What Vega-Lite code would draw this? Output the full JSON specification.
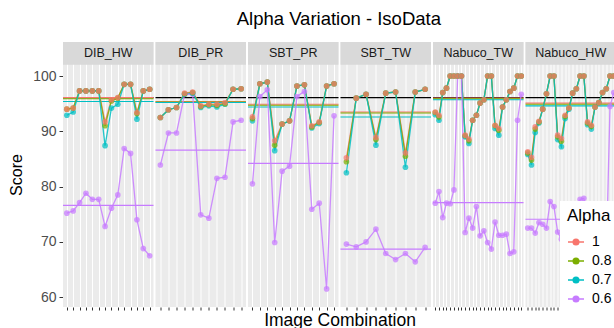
{
  "$schema": "https://vega.github.io/schema/vega-lite/v6.json",
  "padding": {"left": 8, "top": 9, "right": 0, "bottom": 0},
  "bounds": "flush",
  "title": {"text": "Alpha Variation - IsoData", "fontSize": 18.5, "fontWeight": "normal", "color": "#000000", "anchor": "middle", "offset": 14, "dx": 25},
  "data": {"values": [
    {"p":"DIB_HW","k":"m","ref":96.1,"a1":96.1,"a08":95.9,"a07":95.4,"a06":76.6},
    {"p":"DIB_PR","k":"m","ref":96.1,"a1":95.4,"a08":95.3,"a07":95.2,"a06":86.6},
    {"p":"SBT_PR","k":"m","ref":96.1,"a1":94.9,"a08":94.7,"a07":94.4,"a06":84.2},
    {"p":"SBT_TW","k":"m","ref":96.1,"a1":93.5,"a08":93.3,"a07":92.6,"a06":68.7},
    {"p":"Nabuco_TW","k":"m","ref":96.1,"a1":96.0,"a08":95.9,"a07":95.7,"a06":77.1},
    {"p":"Nabuco_HW","k":"m","ref":96.1,"a1":95.1,"a08":94.9,"a07":94.6,"a06":74.1},
    {"p":"DIB_HW","k":"pt","i":1,"a1":94.0,"a08":94.0,"a07":92.9,"a06":75.2},
    {"p":"DIB_HW","k":"pt","i":2,"a1":94.2,"a08":94.2,"a07":93.5,"a06":75.6},
    {"p":"DIB_HW","k":"pt","i":3,"a1":97.3,"a08":97.3,"a07":97.3,"a06":77.1},
    {"p":"DIB_HW","k":"pt","i":4,"a1":97.3,"a08":97.3,"a07":97.3,"a06":78.8},
    {"p":"DIB_HW","k":"pt","i":5,"a1":97.3,"a08":97.3,"a07":97.3,"a06":77.7},
    {"p":"DIB_HW","k":"pt","i":6,"a1":97.3,"a08":97.3,"a07":97.3,"a06":77.7},
    {"p":"DIB_HW","k":"pt","i":7,"a1":91.7,"a08":91.0,"a07":87.4,"a06":72.8},
    {"p":"DIB_HW","k":"pt","i":8,"a1":95.7,"a08":95.5,"a07":94.2,"a06":76.1},
    {"p":"DIB_HW","k":"pt","i":9,"a1":96.1,"a08":96.0,"a07":94.9,"a06":78.5},
    {"p":"DIB_HW","k":"pt","i":10,"a1":98.5,"a08":98.5,"a07":98.5,"a06":86.9},
    {"p":"DIB_HW","k":"pt","i":11,"a1":98.5,"a08":98.5,"a07":98.5,"a06":86.0},
    {"p":"DIB_HW","k":"pt","i":12,"a1":93.4,"a08":93.2,"a07":92.2,"a06":74.0},
    {"p":"DIB_HW","k":"pt","i":13,"a1":97.3,"a08":97.3,"a07":97.3,"a06":68.8},
    {"p":"DIB_HW","k":"pt","i":14,"a1":97.6,"a08":97.6,"a07":97.6,"a06":67.5},
    {"p":"DIB_PR","k":"pt","i":1,"a1":92.5,"a08":92.5,"a07":92.5,"a06":83.9},
    {"p":"DIB_PR","k":"pt","i":2,"a1":93.9,"a08":93.9,"a07":93.9,"a06":89.7},
    {"p":"DIB_PR","k":"pt","i":3,"a1":94.3,"a08":94.3,"a07":94.3,"a06":89.7},
    {"p":"DIB_PR","k":"pt","i":4,"a1":96.9,"a08":96.8,"a07":96.7,"a06":96.7},
    {"p":"DIB_PR","k":"pt","i":5,"a1":97.1,"a08":97.0,"a07":96.9,"a06":96.7},
    {"p":"DIB_PR","k":"pt","i":6,"a1":94.6,"a08":94.5,"a07":94.3,"a06":74.9},
    {"p":"DIB_PR","k":"pt","i":7,"a1":94.9,"a08":94.8,"a07":94.6,"a06":74.3},
    {"p":"DIB_PR","k":"pt","i":8,"a1":94.9,"a08":94.7,"a07":94.4,"a06":81.5},
    {"p":"DIB_PR","k":"pt","i":9,"a1":95.2,"a08":95.0,"a07":94.9,"a06":81.7},
    {"p":"DIB_PR","k":"pt","i":10,"a1":97.6,"a08":97.6,"a07":97.6,"a06":91.7},
    {"p":"DIB_PR","k":"pt","i":11,"a1":97.7,"a08":97.7,"a07":97.7,"a06":92.0},
    {"p":"SBT_PR","k":"pt","i":1,"a1":92.6,"a08":92.3,"a07":91.9,"a06":80.5},
    {"p":"SBT_PR","k":"pt","i":2,"a1":98.6,"a08":98.6,"a07":98.6,"a06":96.3},
    {"p":"SBT_PR","k":"pt","i":3,"a1":98.9,"a08":98.9,"a07":98.9,"a06":97.5},
    {"p":"SBT_PR","k":"pt","i":4,"a1":88.3,"a08":87.5,"a07":86.5,"a06":69.9},
    {"p":"SBT_PR","k":"pt","i":5,"a1":91.3,"a08":91.3,"a07":91.3,"a06":82.8},
    {"p":"SBT_PR","k":"pt","i":6,"a1":91.9,"a08":91.9,"a07":91.9,"a06":83.7},
    {"p":"SBT_PR","k":"pt","i":7,"a1":98.2,"a08":98.2,"a07":98.2,"a06":96.3},
    {"p":"SBT_PR","k":"pt","i":8,"a1":98.4,"a08":98.4,"a07":98.4,"a06":97.2},
    {"p":"SBT_PR","k":"pt","i":9,"a1":91.0,"a08":90.8,"a07":90.6,"a06":75.9},
    {"p":"SBT_PR","k":"pt","i":10,"a1":91.7,"a08":91.6,"a07":91.4,"a06":77.0},
    {"p":"SBT_PR","k":"pt","i":11,"a1":98.2,"a08":98.2,"a07":98.2,"a06":61.5},
    {"p":"SBT_PR","k":"pt","i":12,"a1":98.6,"a08":98.6,"a07":98.6,"a06":92.8},
    {"p":"SBT_TW","k":"pt","i":1,"a1":85.2,"a08":84.5,"a07":82.5,"a06":69.6},
    {"p":"SBT_TW","k":"pt","i":2,"a1":96.0,"a08":96.0,"a07":96.0,"a06":69.1},
    {"p":"SBT_TW","k":"pt","i":3,"a1":96.7,"a08":96.7,"a07":96.7,"a06":70.0},
    {"p":"SBT_TW","k":"pt","i":4,"a1":88.9,"a08":88.5,"a07":87.5,"a06":72.3},
    {"p":"SBT_TW","k":"pt","i":5,"a1":96.9,"a08":96.9,"a07":96.9,"a06":67.9},
    {"p":"SBT_TW","k":"pt","i":6,"a1":97.1,"a08":97.1,"a07":97.1,"a06":66.8},
    {"p":"SBT_TW","k":"pt","i":7,"a1":86.1,"a08":85.5,"a07":83.5,"a06":67.9},
    {"p":"SBT_TW","k":"pt","i":8,"a1":97.1,"a08":97.1,"a07":97.1,"a06":66.4},
    {"p":"SBT_TW","k":"pt","i":9,"a1":97.6,"a08":97.6,"a07":97.6,"a06":69.0},
    {"p":"Nabuco_TW","k":"pt","i":1,"a1":93.5,"a08":93.4,"a07":93.0,"a06":77.0},
    {"p":"Nabuco_TW","k":"pt","i":2,"a1":92.9,"a08":92.6,"a07":92.0,"a06":79.1},
    {"p":"Nabuco_TW","k":"pt","i":3,"a1":97.0,"a08":97.0,"a07":97.0,"a06":74.4},
    {"p":"Nabuco_TW","k":"pt","i":4,"a1":97.8,"a08":97.8,"a07":97.8,"a06":77.0},
    {"p":"Nabuco_TW","k":"pt","i":5,"a1":100,"a08":100,"a07":100,"a06":76.9},
    {"p":"Nabuco_TW","k":"pt","i":6,"a1":100,"a08":100,"a07":100,"a06":79.4},
    {"p":"Nabuco_TW","k":"pt","i":7,"a1":100,"a08":100,"a07":100,"a06":100},
    {"p":"Nabuco_TW","k":"pt","i":8,"a1":100,"a08":100,"a07":100,"a06":100},
    {"p":"Nabuco_TW","k":"pt","i":9,"a1":89.3,"a08":89.2,"a07":89.0,"a06":71.7},
    {"p":"Nabuco_TW","k":"pt","i":10,"a1":88.6,"a08":88.3,"a07":87.8,"a06":74.3},
    {"p":"Nabuco_TW","k":"pt","i":11,"a1":92.0,"a08":92.0,"a07":92.0,"a06":72.5},
    {"p":"Nabuco_TW","k":"pt","i":12,"a1":92.9,"a08":92.9,"a07":92.9,"a06":76.4},
    {"p":"Nabuco_TW","k":"pt","i":13,"a1":95.1,"a08":95.1,"a07":95.1,"a06":71.1},
    {"p":"Nabuco_TW","k":"pt","i":14,"a1":95.7,"a08":95.7,"a07":95.7,"a06":72.0},
    {"p":"Nabuco_TW","k":"pt","i":15,"a1":100,"a08":100,"a07":100,"a06":69.9},
    {"p":"Nabuco_TW","k":"pt","i":16,"a1":100,"a08":100,"a07":100,"a06":68.7},
    {"p":"Nabuco_TW","k":"pt","i":17,"a1":91.1,"a08":91.0,"a07":90.5,"a06":73.6},
    {"p":"Nabuco_TW","k":"pt","i":18,"a1":90.5,"a08":90.2,"a07":89.3,"a06":71.2},
    {"p":"Nabuco_TW","k":"pt","i":19,"a1":94.4,"a08":94.4,"a07":94.4,"a06":71.2},
    {"p":"Nabuco_TW","k":"pt","i":20,"a1":95.7,"a08":95.7,"a07":95.7,"a06":71.4},
    {"p":"Nabuco_TW","k":"pt","i":21,"a1":97.2,"a08":97.2,"a07":97.2,"a06":67.9},
    {"p":"Nabuco_TW","k":"pt","i":22,"a1":97.8,"a08":97.8,"a07":97.8,"a06":68.2},
    {"p":"Nabuco_TW","k":"pt","i":23,"a1":100,"a08":100,"a07":100,"a06":92.0},
    {"p":"Nabuco_TW","k":"pt","i":24,"a1":100,"a08":100,"a07":100,"a06":96.7},
    {"p":"Nabuco_HW","k":"pt","i":1,"a1":86.3,"a08":86.1,"a07":85.8,"a06":72.5},
    {"p":"Nabuco_HW","k":"pt","i":2,"a1":85.3,"a08":84.8,"a07":83.9,"a06":72.5},
    {"p":"Nabuco_HW","k":"pt","i":3,"a1":90.8,"a08":90.4,"a07":89.8,"a06":71.6},
    {"p":"Nabuco_HW","k":"pt","i":4,"a1":91.8,"a08":91.7,"a07":91.5,"a06":73.5},
    {"p":"Nabuco_HW","k":"pt","i":5,"a1":94.0,"a08":94.0,"a07":94.0,"a06":73.2},
    {"p":"Nabuco_HW","k":"pt","i":6,"a1":96.8,"a08":96.8,"a07":96.8,"a06":72.5},
    {"p":"Nabuco_HW","k":"pt","i":7,"a1":100,"a08":100,"a07":100,"a06":77.3},
    {"p":"Nabuco_HW","k":"pt","i":8,"a1":100,"a08":100,"a07":100,"a06":76.4},
    {"p":"Nabuco_HW","k":"pt","i":9,"a1":89.3,"a08":89.0,"a07":88.5,"a06":71.8},
    {"p":"Nabuco_HW","k":"pt","i":10,"a1":88.7,"a08":88.2,"a07":87.2,"a06":70.5},
    {"p":"Nabuco_HW","k":"pt","i":11,"a1":92.9,"a08":92.7,"a07":92.3,"a06":72.0},
    {"p":"Nabuco_HW","k":"pt","i":12,"a1":94.2,"a08":94.2,"a07":94.0,"a06":74.0},
    {"p":"Nabuco_HW","k":"pt","i":13,"a1":96.9,"a08":96.9,"a07":96.9,"a06":71.0},
    {"p":"Nabuco_HW","k":"pt","i":14,"a1":97.7,"a08":97.7,"a07":97.7,"a06":69.5},
    {"p":"Nabuco_HW","k":"pt","i":15,"a1":100,"a08":100,"a07":100,"a06":77.7},
    {"p":"Nabuco_HW","k":"pt","i":16,"a1":100,"a08":100,"a07":100,"a06":77.9},
    {"p":"Nabuco_HW","k":"pt","i":17,"a1":91.7,"a08":91.5,"a07":91.2,"a06":72.0},
    {"p":"Nabuco_HW","k":"pt","i":18,"a1":91.1,"a08":90.9,"a07":90.4,"a06":70.0},
    {"p":"Nabuco_HW","k":"pt","i":19,"a1":94.4,"a08":94.4,"a07":94.4,"a06":71.5},
    {"p":"Nabuco_HW","k":"pt","i":20,"a1":95.2,"a08":95.2,"a07":95.2,"a06":69.0},
    {"p":"Nabuco_HW","k":"pt","i":21,"a1":97.0,"a08":97.0,"a07":97.0,"a06":70.0},
    {"p":"Nabuco_HW","k":"pt","i":22,"a1":97.7,"a08":97.7,"a07":97.7,"a06":67.5},
    {"p":"Nabuco_HW","k":"pt","i":23,"a1":100,"a08":100,"a07":100,"a06":94.5},
    {"p":"Nabuco_HW","k":"pt","i":24,"a1":100,"a08":100,"a07":100,"a06":97.0}
  ]},
  "facet": {
    "column": {
      "field": "p",
      "type": "nominal",
      "sort": ["DIB_HW","DIB_PR","SBT_PR","SBT_TW","Nabuco_TW","Nabuco_HW"],
      "header": {"title": "Image Combination", "titleOrient": "bottom", "labels": false, "titleFontSize": 17.5, "titleFontWeight": "normal", "titleColor": "#000000", "titlePadding": -5}
    }
  },
  "spacing": 1.5,
  "resolve": {"scale": {"x": "independent"}},
  "spec": {
    "width": 90.5,
    "height": 265,
    "layer": [
      {
        "transform": [{"filter": "datum.k === 'm'"}],
        "mark": {"type": "rect", "color": "#D9D9D9"},
        "encoding": {
          "y": {"datum": 102.05, "type": "quantitative", "scale": {"domain": [58.23, 106.15], "nice": false, "zero": false},
            "axis": {"title": "Score", "values": [60,65,70,75,80,85,90,95,100], "labelExpr": "datum.value % 10 === 0 ? datum.label : ''", "gridColor": "#FFFFFF", "gridWidth": {"condition": {"test": "datum.value % 10 !== 0", "value": 0.5}, "value": 1.1}, "tickOpacity": {"condition": {"test": "datum.value % 10 !== 0", "value": 0}, "value": 1}, "tickSize": 4, "tickColor": "#333333", "domain": false, "labelFontSize": 14, "labelColor": "#4D4D4D", "labelPadding": 3, "titleFontSize": 16, "titleFontWeight": "normal", "titleColor": "#000000", "titlePadding": 8}},
          "y2": {"datum": 106.15}
        }
      },
      {
        "transform": [{"filter": "datum.k === 'm'"}],
        "mark": {"type": "text", "fontSize": 12.5, "color": "#1A1A1A", "baseline": "middle"},
        "encoding": {
          "y": {"datum": 104.1, "type": "quantitative", "scale": {"domain": [58.23, 106.15], "nice": false, "zero": false},
            "axis": {"title": "Score", "values": [60,65,70,75,80,85,90,95,100], "labelExpr": "datum.value % 10 === 0 ? datum.label : ''", "gridColor": "#FFFFFF", "gridWidth": {"condition": {"test": "datum.value % 10 !== 0", "value": 0.5}, "value": 1.1}, "tickOpacity": {"condition": {"test": "datum.value % 10 !== 0", "value": 0}, "value": 1}, "tickSize": 4, "tickColor": "#333333", "domain": false, "labelFontSize": 14, "labelColor": "#4D4D4D", "labelPadding": 3, "titleFontSize": 16, "titleFontWeight": "normal", "titleColor": "#000000", "titlePadding": 8}},
          "text": {"field": "p"}
        }
      },
      {
        "transform": [{"filter": "datum.k === 'm'"}],
        "mark": {"type": "rule", "color": "#000000", "strokeWidth": 1.1},
        "encoding": {
          "y": {"field": "ref", "type": "quantitative", "scale": {"domain": [58.23, 106.15], "nice": false, "zero": false},
            "axis": {"title": "Score", "values": [60,65,70,75,80,85,90,95,100], "labelExpr": "datum.value % 10 === 0 ? datum.label : ''", "gridColor": "#FFFFFF", "gridWidth": {"condition": {"test": "datum.value % 10 !== 0", "value": 0.5}, "value": 1.1}, "tickOpacity": {"condition": {"test": "datum.value % 10 !== 0", "value": 0}, "value": 1}, "tickSize": 4, "tickColor": "#333333", "domain": false, "labelFontSize": 14, "labelColor": "#4D4D4D", "labelPadding": 3, "titleFontSize": 16, "titleFontWeight": "normal", "titleColor": "#000000", "titlePadding": 8}}
        }
      },
      {
        "transform": [{"filter": "datum.k === 'm'"}, {"fold": ["a1","a08","a07","a06"], "as": ["Alpha","Score"]}],
        "mark": {"type": "rule", "strokeWidth": 1.1},
        "encoding": {
          "y": {"field": "Score", "type": "quantitative", "scale": {"domain": [58.23, 106.15], "nice": false, "zero": false},
            "axis": {"title": "Score", "values": [60,65,70,75,80,85,90,95,100], "labelExpr": "datum.value % 10 === 0 ? datum.label : ''", "gridColor": "#FFFFFF", "gridWidth": {"condition": {"test": "datum.value % 10 !== 0", "value": 0.5}, "value": 1.1}, "tickOpacity": {"condition": {"test": "datum.value % 10 !== 0", "value": 0}, "value": 1}, "tickSize": 4, "tickColor": "#333333", "domain": false, "labelFontSize": 14, "labelColor": "#4D4D4D", "labelPadding": 3, "titleFontSize": 16, "titleFontWeight": "normal", "titleColor": "#000000", "titlePadding": 8}},
          "color": {"field": "Alpha", "type": "nominal", "title": "Alpha",
            "scale": {"domain": ["a1","a08","a07","a06"], "range": ["#F8766D","#7CAE00","#00BFC4","#C77CFF"]},
            "legend": {"labelExpr": "{'a1':'1','a08':'0.8','a07':'0.7','a06':'0.6'}[datum.label]", "symbolType": "M-1,0L1,0M-0.35,0A0.35,0.35,0,1,0,0.35,0A0.35,0.35,0,1,0,-0.35,0"}}
        }
      },
      {
        "transform": [{"filter": "datum.k === 'pt'"}, {"fold": ["a1","a08","a07","a06"], "as": ["Alpha","Score"]}],
        "mark": {"type": "line", "strokeWidth": 1.3, "opacity": 0.85},
        "encoding": {
          "x": {"field": "i", "type": "ordinal", "scale": {"type": "point", "padding": 0.6},
            "axis": {"labels": false, "ticks": true, "tickSize": 3, "tickColor": "#333333", "domain": false, "grid": true, "gridColor": "#FFFFFF", "gridWidth": 1, "title": null}},
          "y": {"field": "Score", "type": "quantitative", "scale": {"domain": [58.23, 106.15], "nice": false, "zero": false},
            "axis": {"title": "Score", "values": [60,65,70,75,80,85,90,95,100], "labelExpr": "datum.value % 10 === 0 ? datum.label : ''", "gridColor": "#FFFFFF", "gridWidth": {"condition": {"test": "datum.value % 10 !== 0", "value": 0.5}, "value": 1.1}, "tickOpacity": {"condition": {"test": "datum.value % 10 !== 0", "value": 0}, "value": 1}, "tickSize": 4, "tickColor": "#333333", "domain": false, "labelFontSize": 14, "labelColor": "#4D4D4D", "labelPadding": 3, "titleFontSize": 16, "titleFontWeight": "normal", "titleColor": "#000000", "titlePadding": 8}},
          "color": {"field": "Alpha", "type": "nominal", "title": "Alpha",
            "scale": {"domain": ["a1","a08","a07","a06"], "range": ["#F8766D","#7CAE00","#00BFC4","#C77CFF"]},
            "legend": {"labelExpr": "{'a1':'1','a08':'0.8','a07':'0.7','a06':'0.6'}[datum.label]", "symbolType": "M-1,0L1,0M-0.35,0A0.35,0.35,0,1,0,0.35,0A0.35,0.35,0,1,0,-0.35,0"}}
        }
      },
      {
        "transform": [{"filter": "datum.k === 'pt'"}, {"fold": ["a06","a07","a08","a1"], "as": ["Alpha","Score"]}],
        "mark": {"type": "point", "filled": true, "size": 32, "opacity": 0.72},
        "encoding": {
          "x": {"field": "i", "type": "ordinal", "scale": {"type": "point", "padding": 0.6},
            "axis": {"labels": false, "ticks": true, "tickSize": 3, "tickColor": "#333333", "domain": false, "grid": true, "gridColor": "#FFFFFF", "gridWidth": 1, "title": null}},
          "y": {"field": "Score", "type": "quantitative", "scale": {"domain": [58.23, 106.15], "nice": false, "zero": false},
            "axis": {"title": "Score", "values": [60,65,70,75,80,85,90,95,100], "labelExpr": "datum.value % 10 === 0 ? datum.label : ''", "gridColor": "#FFFFFF", "gridWidth": {"condition": {"test": "datum.value % 10 !== 0", "value": 0.5}, "value": 1.1}, "tickOpacity": {"condition": {"test": "datum.value % 10 !== 0", "value": 0}, "value": 1}, "tickSize": 4, "tickColor": "#333333", "domain": false, "labelFontSize": 14, "labelColor": "#4D4D4D", "labelPadding": 3, "titleFontSize": 16, "titleFontWeight": "normal", "titleColor": "#000000", "titlePadding": 8}},
          "color": {"field": "Alpha", "type": "nominal", "title": "Alpha",
            "scale": {"domain": ["a1","a08","a07","a06"], "range": ["#F8766D","#7CAE00","#00BFC4","#C77CFF"]},
            "legend": {"labelExpr": "{'a1':'1','a08':'0.8','a07':'0.7','a06':'0.6'}[datum.label]", "symbolType": "M-1,0L1,0M-0.35,0A0.35,0.35,0,1,0,0.35,0A0.35,0.35,0,1,0,-0.35,0"}}
        }
      }
    ]
  },
  "config": {
    "font": "Liberation Sans",
    "view": {"stroke": null, "fill": "#EBEBEB"},
    "legend": {"orient": "none", "legendX": 497, "legendY": 159, "fillColor": "#FFFFFF", "padding": 7,
      "titleFontSize": 17, "titleFontWeight": "normal", "titleColor": "#000000", "titlePadding": 8,
      "labelFontSize": 14, "labelColor": "#000000", "labelOffset": 7,
      "symbolSize": 256, "symbolStrokeWidth": 1.5, "symbolOpacity": 1, "rowPadding": 3}
  }
}
